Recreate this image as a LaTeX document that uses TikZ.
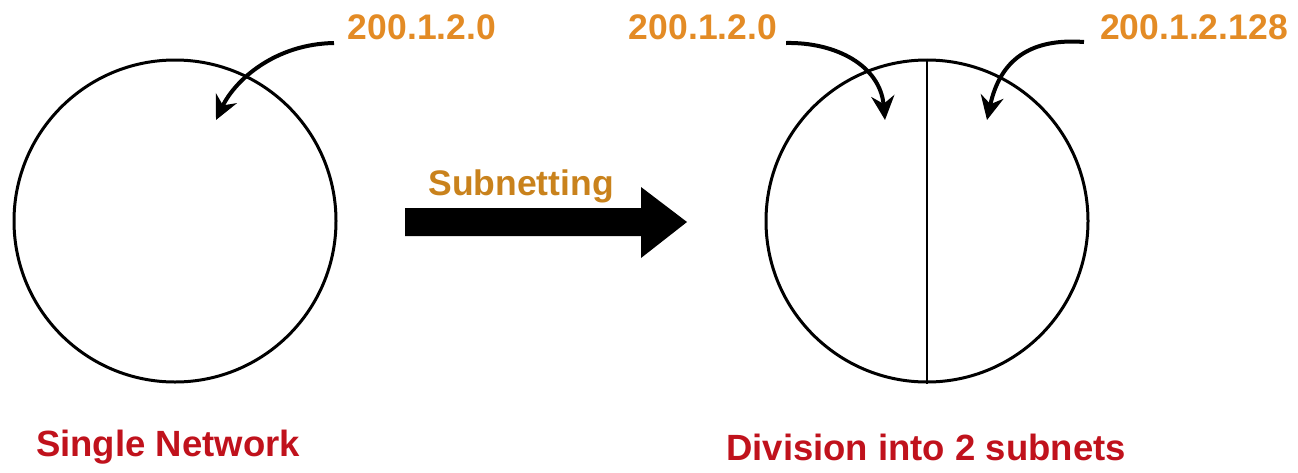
\documentclass[tikz,border=0pt]{standalone}
\usepackage{fontspec}
\setmainfont{Liberation Sans}
\usetikzlibrary{arrows.meta}
\definecolor{addr}{HTML}{E38B25}
\definecolor{subn}{HTML}{C9821C}
\definecolor{cap}{HTML}{C0121C}
\tikzset{
  net/.style={circle, draw=black, line width=3pt, minimum size=322pt, inner sep=0pt},
  addrlbl/.style={text=addr, font=\bfseries\fontsize{35.5}{40}\selectfont, inner sep=0pt},
  caplbl/.style={text=cap, font=\bfseries\fontsize{36.5}{40}\selectfont, inner sep=0pt},
  subnlbl/.style={text=subn, font=\bfseries\fontsize{35.5}{40}\selectfont, inner sep=0pt},
  pointer/.style={line width=4pt, -{Stealth[length=24pt,width=23pt]}},
}
\begin{document}
\begin{tikzpicture}[x=1pt,y=-1pt]
\useasboundingbox (0,0) rectangle (1298,472);
% networks
\node[net] (c1) at (175,221) {};
\node[net] (c2) at (927,221) {};
\draw[line width=2.5pt] (c2.north) -- (c2.south);
% labels
\node[addrlbl] (a1) at (422,27) {200.1.2.0};
\node[addrlbl] (a2) at (703,27) {200.1.2.0};
\node[addrlbl] (a3) at (1194,27) {200.1.2.128};
\node[subnlbl] (sub) at (521,186) {Subnetting};
\node[caplbl] (cap1) at (168,447) {Single Network};
\node[caplbl] (cap2) at (926,447) {Division into 2 subnets};
% pointer ends
\coordinate (s1) at (334,43);
\coordinate (t1) at (216,120);
\coordinate (s2) at (786,43);
\coordinate (t2) at (885,120);
\coordinate (s3) at (1084,42);
\coordinate (t3) at (987,120);
\draw[pointer] (s1) .. controls (275,44) and (235,80) .. (t1);
\draw[pointer] (s2) .. controls (835,42) and (880,65) .. (t2);
\draw[pointer] (s3) .. controls (1030,38) and (1000,60) .. (t3);
% big arrow
\coordinate (b0) at (405,208);
\coordinate (tip) at (687,222);
\fill[black] (b0) -- (641,208) -- (641,187) -- (tip) -- (641,258) -- (641,236) -- (405,236) -- cycle;
\end{tikzpicture}
\end{document}
